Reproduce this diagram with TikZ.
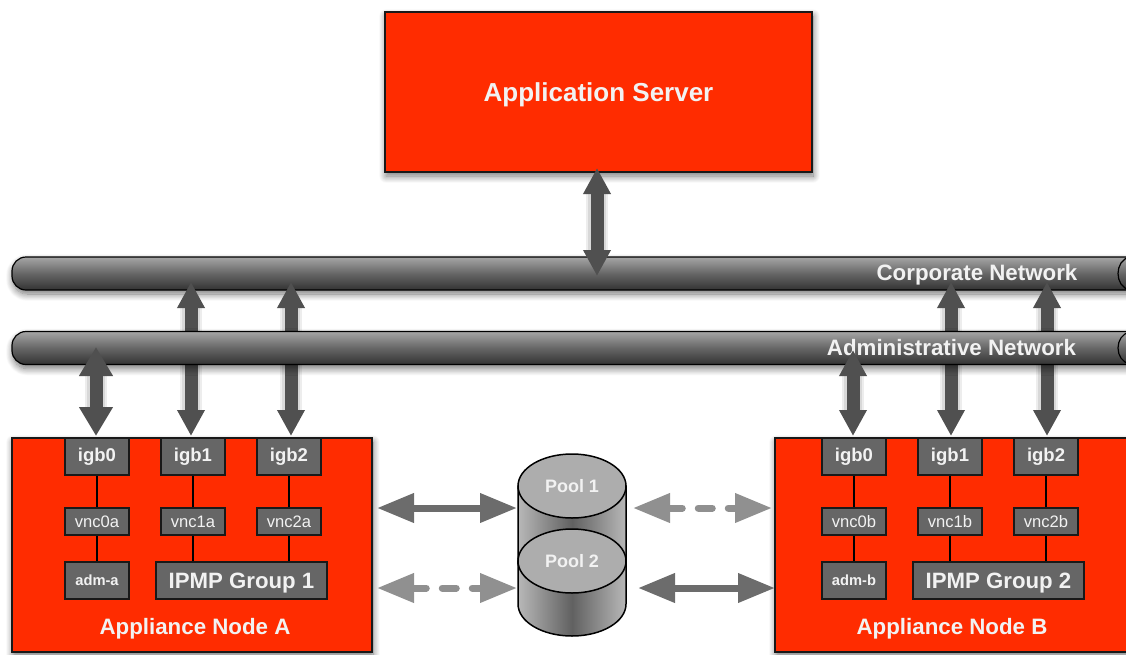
\documentclass[tikz,border=0pt]{standalone}
\usepackage{fontspec}
\setmainfont{Liberation Sans}
\usepackage{tikz}
\usetikzlibrary{arrows.meta, positioning, shapes.geometric, shadows.blur}
\usepackage{xcolor}

\definecolor{nodered}{HTML}{FF2C00}
\definecolor{boxgray}{HTML}{666666}
\definecolor{busgray}{HTML}{505050}
\definecolor{linkgray}{HTML}{6C6C6C}
\definecolor{waitgray}{HTML}{909090}
\definecolor{lettergray}{HTML}{F2F2F2}

\tikzset{
  softshadow/.style={blur shadow={shadow blur steps=12, shadow xshift=1pt, shadow yshift=-4pt, shadow blur radius=7pt, shadow opacity=55}},
  redbox/.style={rectangle, draw=black!90, line width=1.2pt, fill=nodered, softshadow},
  netpipe/.style={rectangle, draw=black, line width=1.2pt, rounded corners=14pt, minimum width=1160pt, minimum height=33pt, top color=black!35, bottom color=black!80, middle color=black!60, softshadow},
  ifbox/.style={rectangle, draw=black!90, line width=1.2pt, fill=boxgray, text=lettergray, minimum width=64pt, minimum height=37pt, inner sep=0pt, font=\bfseries\fontsize{18.5}{20}\selectfont},
  vncbox/.style={ifbox, minimum height=27pt, font=\fontsize{16.6}{18}\selectfont},
  admbox/.style={ifbox, font=\bfseries\fontsize{14.7}{16}\selectfont},
  ipmpbox/.style={ifbox, minimum width=171pt, text depth=0pt, font=\bfseries\fontsize{22.2}{24}\selectfont},
  title/.style={text=lettergray, inner sep=0pt, text depth=0pt, font=\bfseries\fontsize{22.3}{24}\selectfont},
  pooltop/.style={ellipse, draw=black, line width=1.5pt, fill=black!32, text=lettergray, minimum width=108pt, minimum height=64pt, inner sep=0pt, font=\bfseries\fontsize{18}{20}\selectfont},
  poolbody/.style={draw=black, line width=1.5pt, left color=black!28, right color=black!28, middle color=black!62},
  glow/.style={preaction={draw=black, opacity=.07, line width=22pt, shorten <=22pt, shorten >=22pt, -, xshift=1pt},
    preaction={draw=black, opacity=.09, line width=18pt, shorten <=22pt, shorten >=22pt, -, xshift=1pt}},
  busarrow/.style={glow, busgray, line width=13pt, {Triangle[length=26pt, width=26pt]}-{Triangle[length=26pt, width=26pt]}},
  admarrow/.style={glow, busgray, line width=13pt, {Triangle[length=29pt, width=32pt]}-{Triangle[length=29pt, width=32pt]}},
  poolarrow/.style={line width=7pt, {Triangle[length=37pt, width=28pt]}-{Triangle[length=37pt, width=28pt]}},
  linkarrow/.style={poolarrow, linkgray},
  waitarrow/.style={poolarrow, waitgray, line cap=round, dash pattern=on 14pt off 16pt},
  wire/.style={draw=black, line width=1.2pt}
}

\begin{document}
\begin{tikzpicture}[x=1pt, y=-1pt]
  \path[use as bounding box, clip] (0, 0) rectangle (1126, 654);

  \node[redbox, minimum width=427pt, minimum height=160pt, text=lettergray, text depth=0pt, font=\bfseries\fontsize{26}{28}\selectfont] (appserver) at (598.5, 92) {Application Server};

  % networks
  \node[netpipe] (corpnet) at (592, 273.5) {};
  \draw[line width=1.2pt] (1130, 257) .. controls (1114, 260) and (1114, 287) .. (1130, 290);

  \coordinate (appup) at (597, 168);
  \coordinate (appdown) at (597, 276);
  \coordinate (corpA1) at (191, 282);
  \coordinate (corpA2) at (291, 282);
  \coordinate (corpB1) at (951, 282);
  \coordinate (corpB2) at (1047, 282);

  % appliance nodes
  \node[redbox, minimum width=360pt, minimum height=214pt] (nodeA) at (192, 545) {};
  \node[redbox, minimum width=360pt, minimum height=214pt] (nodeB) at (955, 545) {};

  \draw[wire] (97, 456.5) coordinate (igb0at) -- (97, 521.5) coordinate (vnc0at);
  \draw[wire] (vnc0at) -- (97, 580.5);
  \draw[wire] (193, 456.5) -- (193, 580.5);
  \draw[wire] (289, 456.5) -- (289, 580.5);
  \draw[wire] (854, 456.5) -- (854, 580.5);
  \draw[wire] (950, 456.5) -- (950, 580.5);
  \draw[wire] (1046, 456.5) -- (1046, 580.5);

  \node[ifbox] (igb0a) at (97, 456.5) {igb0};
  \node[ifbox] (igb1a) at (193, 456.5) {igb1};
  \node[ifbox] (igb2a) at (289, 456.5) {igb2};
  \node[vncbox] (vnc0a) at (97, 521.5) {vnc0a};
  \node[vncbox] (vnc1a) at (193, 521.5) {vnc1a};
  \node[vncbox] (vnc2a) at (289, 521.5) {vnc2a};
  \node[admbox] (adma) at (97, 580.5) {adm-a};
  \node[ipmpbox] (ipmp1) at (241.5, 580.5) {IPMP Group 1};
  \node[title] (nameA) at (195, 626) {Appliance Node A};

  \node[ifbox] (igb0b) at (854, 456.5) {igb0};
  \node[ifbox] (igb1b) at (950, 456.5) {igb1};
  \node[ifbox] (igb2b) at (1046, 456.5) {igb2};
  \node[vncbox] (vnc0b) at (854, 521.5) {vnc0b};
  \node[vncbox] (vnc1b) at (950, 521.5) {vnc1b};
  \node[vncbox] (vnc2b) at (1046, 521.5) {vnc2b};
  \node[admbox] (admb) at (854, 580.5) {adm-b};
  \node[ipmpbox] (ipmp2) at (998.5, 580.5) {IPMP Group 2};
  \node[title] (nameB) at (952, 626) {Appliance Node B};

  % links to the corporate network run behind the lower pipe
  \coordinate (igb1afoot) at (191, 436);
  \coordinate (igb2afoot) at (291, 436);
  \coordinate (igb1bfoot) at (951, 436);
  \coordinate (igb2bfoot) at (1047, 436);
  \draw[busarrow] (corpA1) -- (igb1afoot);
  \draw[busarrow] (corpA2) -- (igb2afoot);
  \draw[busarrow] (corpB1) -- (igb1bfoot);
  \draw[busarrow] (corpB2) -- (igb2bfoot);
  \draw[busarrow] (appup) -- (appdown);

  \node[netpipe] (admnet) at (592, 348) {};
  \draw[line width=1.2pt] (1130, 332) .. controls (1114, 335) and (1114, 361) .. (1130, 364);

  \node[title] (corplabel) at (977, 272.5) {Corporate Network};
  \node[title] (admlabel) at (951.5, 347.5) {Administrative Network};

  \coordinate (admAtip) at (96, 347);
  \coordinate (admAfoot) at (96, 436);
  \coordinate (admBtip) at (853, 350);
  \coordinate (admBfoot) at (853, 436);
  \draw[admarrow] (admAtip) -- (admAfoot);
  \draw[busarrow] (admBtip) -- (admBfoot);

  % pools
  \path[poolbody] (518, 486) -- (518, 561) arc (180:360:54pt and 32pt) -- (626, 486) -- cycle;
  \node[pooltop] (pool1) at (572, 486) {Pool 1};
  \path[poolbody] (518, 561) -- (518, 604) arc (180:360:54pt and 32pt) -- (626, 561) -- cycle;
  \node[pooltop] (pool2) at (572, 561) {Pool 2};

  \coordinate (linkA1) at (377, 508);
  \coordinate (linkP1) at (517, 508);
  \coordinate (waitP1) at (633, 508);
  \coordinate (waitB1) at (772, 508);
  \coordinate (waitA2) at (377, 588);
  \coordinate (waitP2) at (517, 588);
  \coordinate (linkP2) at (638, 588);
  \coordinate (linkB2) at (775, 588);
  \draw[linkarrow] (linkA1) -- (linkP1);
  \draw[waitarrow] (waitP1) -- (waitB1);
  \draw[waitarrow] (waitA2) -- (waitP2);
  \draw[linkarrow] (linkP2) -- (linkB2);
\end{tikzpicture}
\end{document}
